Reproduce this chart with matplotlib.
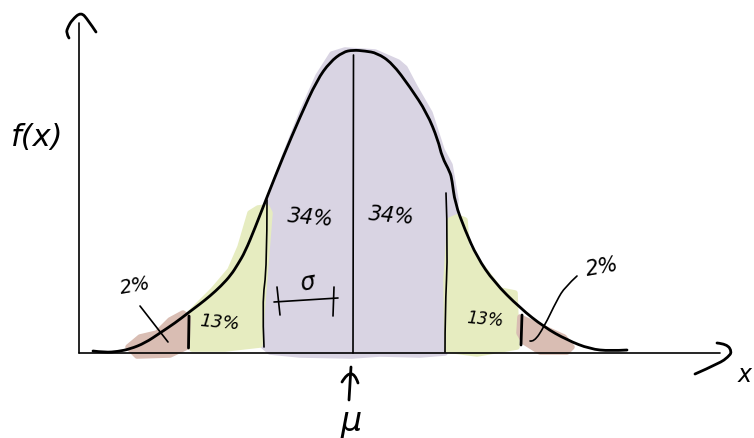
import matplotlib.pyplot as plt
from matplotlib.patches import PathPatch
from matplotlib.path import Path

# everything in picture pixels
curve_x = [93, 105, 118, 130, 145, 160, 175, 188, 200, 210, 221, 231, 238, 245, 255, 267, 283, 300, 317, 330,
           343, 353, 365, 377, 392, 410, 427, 438, 442, 450, 452, 455, 465, 477, 494, 520, 544, 567, 590, 610, 627]
curve_y = [351, 352.5, 351.5, 349, 343, 333, 323, 313, 304, 296, 286, 275, 264, 252, 228, 197, 157, 117, 80, 62,
           52, 50, 51, 53, 63, 87, 113, 140, 157, 172, 180, 203, 230, 257, 282, 308, 327, 340, 349, 351, 350]

purple_x = [264, 270, 285, 302, 318, 332, 345, 375, 398, 405, 415, 430, 442, 450, 456, 452, 448, 447, 445, 420, 380, 352, 300, 270, 262]
purple_y = [300, 195, 155, 112, 76, 54, 50, 52, 62, 68, 87, 113, 150, 165, 200, 250, 300, 340, 353, 355, 354, 356, 355, 352, 345]

green_left_x = [267, 258, 250, 240, 230, 213, 190, 192, 225, 260, 262, 270]
green_left_y = [207, 208, 213, 247, 270, 290, 313, 349, 349, 345, 313, 213]
green_right_x = [450, 457, 465, 467, 487, 500, 515, 517, 500, 477, 447, 446]
green_right_y = [220, 217, 220, 247, 273, 290, 293, 347, 350, 354, 350, 280]

brown_left_x = [128, 140, 157, 170, 183, 188, 187, 170, 137]
brown_left_y = [347, 337, 333, 320, 313, 317, 347, 355, 356]
brown_right_x = [520, 544, 564, 572, 567, 540, 524, 519]
brown_right_y = [317, 328, 337, 347, 352, 352, 342, 333]

fills = [(purple_x, purple_y, '#d9d4e3'),
         (green_left_x, green_left_y, '#e6ecc0'), (green_right_x, green_right_y, '#e6ecc0'),
         (brown_left_x, brown_left_y, '#d9bdb3'), (brown_right_x, brown_right_y, '#d9bdb3')]

# thin pen strokes
thin_lines = [
    ([79, 79], [23, 353]),
    ([79, 720], [353, 353]),
    ([353.5, 353], [55, 353]),
    ([267, 267, 262, 264], [200, 267, 303, 347]),
    ([446, 448, 445, 445], [193, 247, 313, 352]),
    ([274, 338], [302, 298]),
    ([277, 280], [287, 315]),
    ([334, 333], [287, 316]),
    ([140, 168], [306, 342]),
    ([577, 565, 557, 544, 534, 530], [276, 287, 300, 327, 342, 341]),
]
# heavier pen strokes
thick_lines = [
    (curve_x, curve_y),
    ([189, 188.5], [316, 348]),
    ([522, 521], [315, 345]),
    ([69, 66, 68, 72, 81, 88, 96], [38, 33, 27, 20, 12, 20, 32]),
    ([717, 727, 732, 728, 720, 695], [343, 344, 352, 357, 363, 374]),
    ([349, 351], [400, 367]),
    ([342, 352, 358], [382, 365, 383]),
]

labels = ['f(x)', 'x', '34%', '34%', '13%', '13%', '2%', '2%', 'σ', 'μ']
label_x = [37, 745, 311, 392, 220, 485, 135, 602, 307, 351]
label_y = [138, 375, 218, 216, 323, 320, 286, 267, 283, 421]
label_size = [22, 17, 15, 15, 13, 12, 14, 15, 17, 24]
label_rot = [0, 0, -5, -5, -5, -5, 10, 10, 10, 0]


def pen_path(xs, ys):
    # pen stroke: the read points are control points of quadratic pieces
    pts = list(zip(xs, ys))
    if len(pts) < 3:
        return Path(pts)
    verts = [pts[0]]
    codes = [Path.MOVETO]
    for i in range(1, len(pts) - 1):
        if i < len(pts) - 2:
            end = ((pts[i][0] + pts[i + 1][0]) / 2, (pts[i][1] + pts[i + 1][1]) / 2)
        else:
            end = pts[i + 1]
        verts += [pts[i], end]
        codes += [Path.CURVE3, Path.CURVE3]
    return Path(verts, codes)


fig = plt.figure(figsize=(7.54, 4.38), dpi=100)
ax = fig.add_axes([0, 0, 1, 1])
ax.set_xlim(0, 754)
ax.set_ylim(438, 0)
ax.axis('off')

for xs, ys, c in fills:
    ax.fill(xs, ys, color=c, lw=4, joinstyle='round', zorder=1)

for xs, ys in thin_lines:
    ax.add_patch(PathPatch(pen_path(xs, ys), fill=False, edgecolor='black', lw=1.2, capstyle='round', zorder=2))
for xs, ys in thick_lines:
    ax.add_patch(PathPatch(pen_path(xs, ys), fill=False, edgecolor='black', lw=2, capstyle='round', joinstyle='round', zorder=3))

for s, x, y, size, rot in zip(labels, label_x, label_y, label_size, label_rot):
    ax.text(x, y, s, fontsize=size, rotation=rot, family='DejaVu Sans', style='oblique',
            ha='center', va='center', color='black', zorder=4)

fig.savefig('out.png', dpi=100)
